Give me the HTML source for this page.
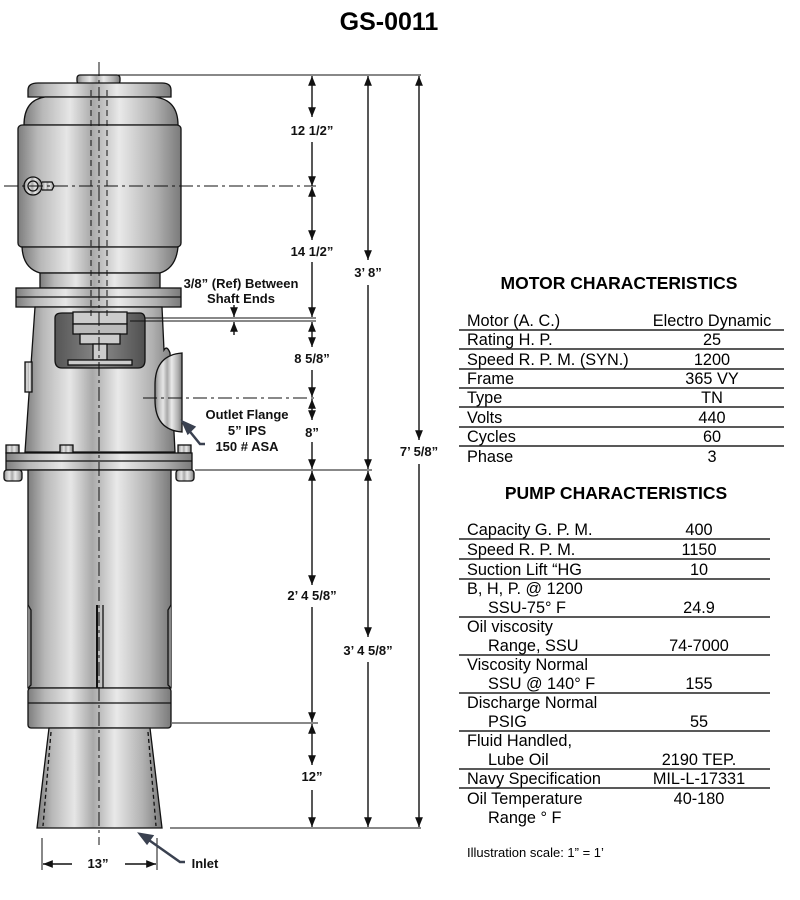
<!DOCTYPE html>
<html><head><meta charset="utf-8"><style>
html,body{margin:0;padding:0;background:#fff;}
svg{display:block;}
text{font-family:"Liberation Sans",Arial,sans-serif;}
.b{font-weight:bold;font-size:13px;text-anchor:middle;fill:#111;}
.t{font-size:16.3px;fill:#000;}
.v{font-size:16.3px;fill:#000;text-anchor:middle;}
</style></head><body>
<svg width="800" height="900" viewBox="0 0 800 900" xmlns="http://www.w3.org/2000/svg">
<defs>
<linearGradient id="m" x1="0" x2="1" y1="0" y2="0">
<stop offset="0" stop-color="#7d7d7d"/><stop offset="0.12" stop-color="#b8b8b8"/>
<stop offset="0.3" stop-color="#e6e6e6"/><stop offset="0.45" stop-color="#a9a9a9"/>
<stop offset="0.62" stop-color="#e9e9e9"/><stop offset="0.85" stop-color="#b0b0b0"/>
<stop offset="1" stop-color="#7a7a7a"/></linearGradient>
<linearGradient id="d" x1="0" x2="1"><stop offset="0" stop-color="#555"/><stop offset="0.5" stop-color="#8a8a8a"/><stop offset="1" stop-color="#505050"/></linearGradient>
<marker id="a" viewBox="0 0 10 10" refX="10" refY="5" markerWidth="7" markerHeight="7" orient="auto-start-reverse"><path d="M0,1 L10,5 L0,9 Z" fill="#111"/></marker>
</defs>
<text x="389" y="30" font-size="25" font-weight="bold" text-anchor="middle">GS-0011</text>

<g stroke="#111" stroke-width="1.3">
<rect x="77" y="75" width="43" height="9" rx="3" fill="url(#m)"/>
<path d="M28,97 L28,90 Q28,83 38,83 L162,83 Q171,83 171,90 L171,97 Z" fill="url(#m)"/>
<path d="M24,125 Q24,100 45,97 L155,97 Q178,100 178,125 Z" fill="url(#m)"/>
<rect x="18" y="125" width="163" height="122" rx="4" fill="url(#m)"/>
<path d="M22,247 L178,247 Q176,268 160,273 L40,273 Q23,268 22,247 Z" fill="url(#m)"/>
<rect x="40" y="273" width="120" height="15" fill="url(#m)"/>
<rect x="16" y="288" width="165" height="19" fill="url(#m)"/>
<line x1="16" y1="297" x2="181" y2="297"/>
<circle cx="33" cy="186" r="9" fill="url(#m)"/><path d="M42,182 L52,182 L54,186 L52,190 L42,190" fill="url(#m)"/>
<circle cx="33" cy="186" r="5" fill="none"/>
<path d="M35,307 L162,307 L164,350 Q167,345 170,353 L175,452 L25,452 Z" fill="url(#m)"/>
<path d="M55,318 Q55,313 62,313 L140,313 Q145,313 145,320 L145,360 Q145,368 138,368 L62,368 Q55,368 55,360 Z" fill="url(#d)"/>
<rect x="73" y="312" width="54" height="12" fill="#ccc"/><rect x="73" y="324" width="54" height="10" fill="#bbb"/>
<rect x="80" y="334" width="40" height="10" fill="#ccc"/><rect x="93" y="344" width="14" height="16" fill="#ccc"/>
<rect x="68" y="360" width="64" height="5" fill="#ccc"/>
<path d="M155,385 Q155,355 182,353 L182,432 Q155,430 155,400 Z" fill="url(#m)"/>
<rect x="25" y="362" width="7" height="30" fill="url(#m)"/>
<rect x="6" y="445" width="13" height="8" fill="url(#m)"/><rect x="60" y="445" width="13" height="8" fill="url(#m)"/><rect x="178" y="445" width="13" height="8" fill="url(#m)"/>
<rect x="6" y="453" width="186" height="17" fill="url(#m)"/>
<line x1="6" y1="461" x2="192" y2="461"/>
<rect x="4" y="470" width="18" height="11" rx="3" fill="url(#m)"/><rect x="176" y="470" width="18" height="11" rx="3" fill="url(#m)"/>
<rect x="28" y="470" width="143" height="218" fill="url(#m)"/>
<path d="M28,605 L31,610 L31,685 L28,688" fill="#888"/><path d="M171,605 L168,610 L168,685 L171,688" fill="#888"/>
<line x1="97" y1="605" x2="97" y2="688" stroke-width="2"/><line x1="103" y1="605" x2="103" y2="688"/>
<rect x="28" y="688" width="143" height="40" rx="3" fill="url(#m)"/>
<line x1="28" y1="703" x2="171" y2="703"/>
<path d="M49,728 L150,728 L162,828 L37,828 Z" fill="url(#m)"/>
<line x1="51" y1="732" x2="43" y2="826" stroke-dasharray="4,3"/><line x1="148" y1="732" x2="156" y2="826" stroke-dasharray="4,3"/>
</g>
<g stroke="#111" stroke-width="1" fill="none">
<line x1="99" y1="62" x2="99" y2="845" stroke-dasharray="14,4,3,4"/>
<line x1="91" y1="90" x2="91" y2="318" stroke-dasharray="6,4"/>
<line x1="107" y1="90" x2="107" y2="318" stroke-dasharray="6,4"/>
<line x1="4" y1="186" x2="316" y2="186" stroke-dasharray="14,4,3,4"/>
<line x1="143" y1="398" x2="316" y2="398" stroke-dasharray="14,4,3,4"/>
<line x1="110" y1="75" x2="421" y2="75"/>
<line x1="145" y1="318" x2="316" y2="318"/><line x1="130" y1="321" x2="316" y2="321"/>
<line x1="195" y1="470" x2="372" y2="470"/>
<line x1="172" y1="723" x2="318" y2="723"/>
<line x1="170" y1="828" x2="421" y2="828"/>
<line x1="42" y1="838" x2="42" y2="870"/><line x1="157" y1="838" x2="157" y2="870"/>
</g>
<g stroke="#111" stroke-width="1.4" marker-start="url(#a)" marker-end="url(#a)">
<line x1="312" y1="76" x2="312" y2="117"/><line x1="312" y1="142" x2="312" y2="186" marker-start="none"/>
<line x1="312" y1="187" x2="312" y2="240"/><line x1="312" y1="262" x2="312" y2="317" marker-start="none"/>
<line x1="312" y1="322" x2="312" y2="347"/><line x1="312" y1="370" x2="312" y2="397" marker-start="none"/>
<line x1="312" y1="399" x2="312" y2="420"/><line x1="312" y1="442" x2="312" y2="469" marker-start="none"/>
<line x1="312" y1="471" x2="312" y2="585"/><line x1="312" y1="607" x2="312" y2="722" marker-start="none"/>
<line x1="312" y1="724" x2="312" y2="765"/><line x1="312" y1="790" x2="312" y2="827" marker-start="none"/>
<line x1="368" y1="76" x2="368" y2="260"/><line x1="368" y1="285" x2="368" y2="469" marker-start="none"/>
<line x1="368" y1="471" x2="368" y2="637"/><line x1="368" y1="662" x2="368" y2="827" marker-start="none"/>
<line x1="419" y1="76" x2="419" y2="440"/><line x1="419" y1="464" x2="419" y2="827" marker-start="none"/>
<line x1="72" y1="864" x2="43" y2="864" marker-start="none"/><line x1="125" y1="864" x2="156" y2="864" marker-start="none"/>
</g>
<g stroke="#111" stroke-width="1.4">
<line x1="234" y1="305" x2="234" y2="317" marker-end="url(#a)"/>
<line x1="234" y1="335" x2="234" y2="322" marker-end="url(#a)"/>
</g>
<g stroke="#3a4150" stroke-width="2.5" fill="none">
<polyline points="205,444 200,444 187,428" /><path d="M183,422 L194,427 L188,433 Z" fill="#3a4150"/>
<polyline points="185,862 180,862 146,838"/><path d="M140,834 L152,836 L147,843 Z" fill="#3a4150"/>
</g>
<g>
<text x="312" y="135" class="b">12 1/2”</text>
<text x="312" y="256" class="b">14 1/2”</text>
<text x="241" y="288" class="b">3/8” (Ref) Between</text>
<text x="241" y="303" class="b">Shaft Ends</text>
<text x="312" y="363" class="b">8 5/8”</text>
<text x="312" y="437" class="b">8”</text>
<text x="368" y="277" class="b">3’ 8”</text>
<text x="419" y="456" class="b">7’ 5/8”</text>
<text x="247" y="419" class="b">Outlet Flange</text>
<text x="247" y="435" class="b">5” IPS</text>
<text x="247" y="451" class="b">150 # ASA</text>
<text x="312" y="600" class="b">2’ 4 5/8”</text>
<text x="368" y="655" class="b">3’ 4 5/8”</text>
<text x="312" y="781" class="b">12”</text>
<text x="98" y="868" class="b">13”</text>
<text x="205" y="868" class="b">Inlet</text>
</g>
<text x="619" y="289" font-size="17.5" font-weight="bold" text-anchor="middle">MOTOR CHARACTERISTICS</text>
<g stroke="#222" stroke-width="1.5">
<line x1="459" y1="330" x2="784" y2="330"/><line x1="459" y1="349" x2="784" y2="349"/><line x1="459" y1="369" x2="784" y2="369"/>
<line x1="459" y1="388" x2="784" y2="388"/><line x1="459" y1="407" x2="784" y2="407"/><line x1="459" y1="427" x2="784" y2="427"/>
<line x1="459" y1="446" x2="784" y2="446"/>
<line x1="459" y1="539" x2="770" y2="539"/><line x1="459" y1="559" x2="770" y2="559"/><line x1="459" y1="579" x2="770" y2="579"/>
<line x1="459" y1="617" x2="770" y2="617"/><line x1="459" y1="655" x2="770" y2="655"/><line x1="459" y1="693" x2="770" y2="693"/>
<line x1="459" y1="731" x2="770" y2="731"/><line x1="459" y1="769" x2="770" y2="769"/><line x1="459" y1="788" x2="770" y2="788"/>
</g>
<g>
<text class="t" x="467" y="326">Motor (A. C.)</text><text class="v" x="712" y="326">Electro Dynamic</text>
<text class="t" x="467" y="345">Rating H. P.</text><text class="v" x="712" y="345">25</text>
<text class="t" x="467" y="365">Speed R. P. M. (SYN.)</text><text class="v" x="712" y="365">1200</text>
<text class="t" x="467" y="384">Frame</text><text class="v" x="712" y="384">365 VY</text>
<text class="t" x="467" y="403">Type</text><text class="v" x="712" y="403">TN</text>
<text class="t" x="467" y="423">Volts</text><text class="v" x="712" y="423">440</text>
<text class="t" x="467" y="442">Cycles</text><text class="v" x="712" y="442">60</text>
<text class="t" x="467" y="462">Phase</text><text class="v" x="712" y="462">3</text>
</g>
<text x="616" y="499" font-size="17.5" font-weight="bold" text-anchor="middle">PUMP CHARACTERISTICS</text>
<g>
<text class="t" x="467" y="535">Capacity G. P. M.</text><text class="v" x="699" y="535">400</text>
<text class="t" x="467" y="555">Speed R. P. M.</text><text class="v" x="699" y="555">1150</text>
<text class="t" x="467" y="575">Suction Lift “HG</text><text class="v" x="699" y="575">10</text>
<text class="t" x="467" y="594">B, H, P. @ 1200</text>
<text class="t" x="488" y="613">SSU-75° F</text><text class="v" x="699" y="613">24.9</text>
<text class="t" x="467" y="632">Oil viscosity</text>
<text class="t" x="488" y="651">Range, SSU</text><text class="v" x="699" y="651">74-7000</text>
<text class="t" x="467" y="670">Viscosity Normal</text>
<text class="t" x="488" y="689">SSU @ 140° F</text><text class="v" x="699" y="689">155</text>
<text class="t" x="467" y="708">Discharge Normal</text>
<text class="t" x="488" y="727">PSIG</text><text class="v" x="699" y="727">55</text>
<text class="t" x="467" y="746">Fluid Handled,</text>
<text class="t" x="488" y="765">Lube Oil</text><text class="v" x="699" y="765">2190 TEP.</text>
<text class="t" x="467" y="784">Navy Specification</text><text class="v" x="699" y="784">MIL-L-17331</text>
<text class="t" x="467" y="804">Oil Temperature</text><text class="v" x="699" y="804">40-180</text>
<text class="t" x="488" y="823">Range ° F</text>
<text x="467" y="857" font-size="13">Illustration scale: 1” = 1’</text>
</g>
</svg>
</body></html>
